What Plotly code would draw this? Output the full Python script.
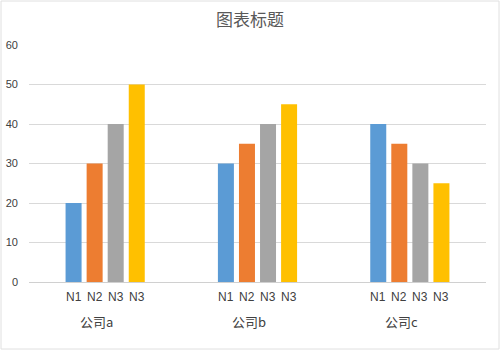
import plotly.graph_objects as go

companies = ["公司a", "公司b", "公司c"]
series_names = ["N1", "N2", "N3", "N3"]
series_values = [
    [20, 30, 40],
    [30, 35, 35],
    [40, 40, 30],
    [50, 45, 25],
]
colors = ["#5B9BD5", "#ED7D31", "#A5A5A5", "#FFC000"]
y_ticks = [0, 10, 20, 30, 40, 50, 60]

bargap = 0.447
n = len(series_names)
slot = (1 - bargap) / n

fig = go.Figure()
for i, (name, vals) in enumerate(zip(series_names, series_values)):
    fig.add_trace(go.Bar(
        x=list(range(len(companies))), y=vals, name=name,
        marker=dict(color=colors[i], line=dict(width=0)),
        showlegend=False,
    ))

annotations = []
for g, comp in enumerate(companies):
    for i, name in enumerate(series_names):
        xpos = g - (1 - bargap) / 2 + slot * (i + 0.5)
        annotations.append(dict(
            x=xpos, y=0, xref="x", yref="y", text=name, showarrow=False,
            yanchor="top", yshift=-6,
            font=dict(family="Liberation Sans, Arial", size=12, color="#404040"),
        ))
    annotations.append(dict(
        x=g - 0.056, y=0, xref="x", yref="y", text=comp, showarrow=False,
        yanchor="top", yshift=-28,
        font=dict(family="Noto Sans CJK SC, Liberation Sans", size=13, color="#404040"),
    ))

fig.update_layout(
    width=500, height=351,
    margin=dict(l=29, r=14, t=45, b=69, autoexpand=False),
    paper_bgcolor="white", plot_bgcolor="white",
    barmode="group", bargap=bargap, bargroupgap=0.24,
    title=dict(text="图表标题", x=0.5, xanchor="center", y=0.943, yanchor="middle",
               font=dict(family="Noto Sans CJK SC", size=17, color="#595959")),
    xaxis=dict(range=[-0.5, len(companies) - 0.5], showticklabels=False, automargin=False,
               showgrid=False, zeroline=False, showline=False, ticks=""),
    yaxis=dict(range=[0, 60], tickvals=y_ticks, showgrid=True, gridcolor="#D9D9D9",
               gridwidth=1, zeroline=True, zerolinecolor="#D0D0D0", zerolinewidth=1,
               ticks="", ticklabelstandoff=10, automargin=False,
               tickfont=dict(family="Liberation Sans, Arial", size=11, color="#404040")),
    annotations=annotations,
    shapes=[dict(type="rect", xref="paper", yref="paper", x0=-28/457, x1=1 + 13/457,
                 y0=-67/237, y1=1 + 44/237, line=dict(color="#E0E0E0", width=1))],
)

fig.write_html("out.html")
